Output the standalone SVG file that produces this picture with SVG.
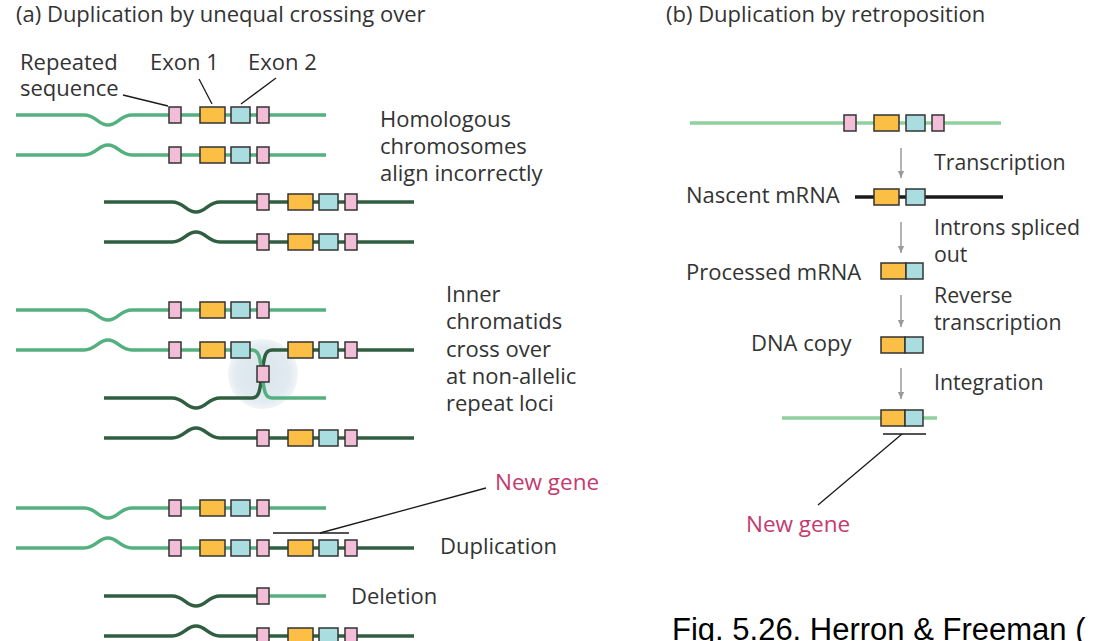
<svg xmlns="http://www.w3.org/2000/svg" width="1095" height="641" viewBox="0 0 1095 641">
<defs>
<style>
.t{font-family:"Open Sans","Noto Sans",sans-serif;font-size:22px;fill:#333}
.s{font-size:21.3px}
.ng{fill:#c43a6e;font-size:22.5px}
.lg{fill:none;stroke:#55b07f;stroke-width:3.5}
.dg{fill:none;stroke:#2f5f40;stroke-width:3.5}
.pg{fill:none;stroke:#8fd19c;stroke-width:3.5}
.bk{fill:none;stroke:#1a1a1a;stroke-width:3.5}
.pk{fill:#f2bdd6;stroke:#333;stroke-width:1.5}
.or{fill:#fbbf45;stroke:#333;stroke-width:1.5}
.bl{fill:#a9dde0;stroke:#333;stroke-width:1.5}
.ld{fill:none;stroke:#1a1a1a;stroke-width:1.3}
.ar{fill:none;stroke:#9a9a9a;stroke-width:1.5}
</style>
<marker id="ah" viewBox="0 0 10 10" refX="9" refY="5" markerWidth="8" markerHeight="8" orient="auto" markerUnits="userSpaceOnUse">
<path d="M0,1 L9,5 L0,9 Z" fill="#9a9a9a"/>
</marker>
<radialGradient id="glow">
<stop offset="0" stop-color="#d9e5ed"/>
<stop offset="0.75" stop-color="#e1eaf0"/>
<stop offset="1" stop-color="#f0f4f7"/>
</radialGradient>
<g id="genesL">
<rect class="pk" x="169" y="-8" width="12" height="16"/>
<rect class="or" x="200" y="-8" width="25" height="16"/>
<rect class="bl" x="231" y="-8" width="19" height="16"/>
<rect class="pk" x="257" y="-8" width="12" height="16"/>
</g>
</defs>
<rect width="1095" height="641" fill="#fff"/>

<text class="t" x="16" y="22">(a) Duplication by unequal crossing over</text>
<text class="t" x="666" y="22">(b) Duplication by retroposition</text>

<g id="labels-a">
<text class="t" x="20" y="70">Repeated</text>
<text class="t" x="20" y="96">sequence</text>
<text class="t" x="150" y="70">Exon 1</text>
<text class="t" x="248" y="70">Exon 2</text>
<text class="t" x="380" y="127">Homologous</text>
<text class="t" x="380" y="154">chromosomes</text>
<text class="t" x="380" y="181">align incorrectly</text>
<text class="t" x="446" y="302">Inner</text>
<text class="t" x="446" y="329">chromatids</text>
<text class="t" x="446" y="357">cross over</text>
<text class="t" x="446" y="384">at non-allelic</text>
<text class="t" x="446" y="411">repeat loci</text>
<text class="t ng" x="495" y="490">New gene</text>
<text class="t" x="440" y="554">Duplication</text>
<text class="t" x="351" y="604">Deletion</text>
</g>

<!-- Panel a, step 1 -->
<g id="a1-chr1">
<path class="lg" d="M16,115 L84,115 C96,115 98,125 108,125 C118,125 120,115 132,115 L326,115"/>
<use href="#genesL" y="115"/>
</g>
<g id="a1-chr2">
<path class="lg" d="M16,155 L84,155 C96,155 98,145 108,145 C118,145 120,155 132,155 L326,155"/>
<use href="#genesL" y="155"/>
</g>
<g id="a1-chr3">
<path class="dg" d="M104,202 L172,202 C184,202 186,212 196,212 C206,212 208,202 220,202 L414,202"/>
<use href="#genesL" x="88" y="202"/>
</g>
<g id="a1-chr4">
<path class="dg" d="M104,242 L172,242 C184,242 186,232 196,232 C206,232 208,242 220,242 L414,242"/>
<use href="#genesL" x="88" y="242"/>
</g>

<!-- Panel a, step 2 -->
<g id="a2-chr1">
<path class="lg" d="M16,310 L84,310 C96,310 98,320 108,320 C118,320 120,310 132,310 L326,310"/>
<use href="#genesL" y="310"/>
</g>
<g id="a2-cross">
<circle cx="263" cy="374" r="35" fill="url(#glow)"/>
<path class="dg" d="M104,398 L172,398 C184,398 186,408 196,408 C206,408 208,398 220,398 L252,398 C260,398 260,388 262,374 C264,360 264,350 272,350 L414,350"/>
<path class="lg" d="M16,350 L84,350 C96,350 98,340 108,340 C118,340 120,350 132,350 L252,350 C260,350 260,360 262,374 C264,388 264,398 272,398 L326,398"/>
<rect class="pk" x="169" y="342" width="12" height="16"/>
<rect class="or" x="200" y="342" width="25" height="16"/>
<rect class="bl" x="231" y="342" width="19" height="16"/>
<rect class="pk" x="257" y="366" width="12" height="16"/>
<rect class="or" x="288" y="342" width="25" height="16"/>
<rect class="bl" x="319" y="342" width="19" height="16"/>
<rect class="pk" x="345" y="342" width="12" height="16"/>
</g>
<g id="a2-chr4">
<path class="dg" d="M104,438 L172,438 C184,438 186,428 196,428 C206,428 208,438 220,438 L414,438"/>
<use href="#genesL" x="88" y="438"/>
</g>

<!-- Panel a, step 3 -->
<g id="a3-chr1">
<path class="lg" d="M16,508 L84,508 C96,508 98,518 108,518 C118,518 120,508 132,508 L326,508"/>
<use href="#genesL" y="508"/>
</g>
<g id="a3-dup">
<path class="dg" d="M263,548 L414,548"/>
<path class="lg" d="M16,548 L84,548 C96,548 98,538 108,538 C118,538 120,548 132,548 L263,548"/>
<use href="#genesL" y="548"/>
<rect class="or" x="288" y="540" width="25" height="16"/>
<rect class="bl" x="319" y="540" width="19" height="16"/>
<rect class="pk" x="345" y="540" width="12" height="16"/>
</g>
<g id="a3-del">
<path class="lg" d="M263,596 L326,596"/>
<path class="dg" d="M104,596 L172,596 C184,596 186,606 196,606 C206,606 208,596 220,596 L263,596"/>
<rect class="pk" x="257" y="588" width="12" height="16"/>
</g>
<g id="a3-chr4">
<path class="dg" d="M104,636 L172,636 C184,636 186,626 196,626 C206,626 208,636 220,636 L414,636"/>
<use href="#genesL" x="88" y="636"/>
</g>

<!-- Panel b -->
<g id="b-gene">
<path class="pg" d="M690,123 L1001,123"/>
<rect class="pk" x="844" y="115" width="12" height="16"/>
<rect class="or" x="874" y="115" width="25" height="16"/>
<rect class="bl" x="906" y="115" width="19" height="16"/>
<rect class="pk" x="932" y="115" width="12" height="16"/>
</g>
<g id="b-nascent">
<text class="t" x="686" y="203">Nascent mRNA</text>
<path class="bk" d="M855,197 L1003,197"/>
<rect class="or" x="874" y="189" width="25" height="16"/>
<rect class="bl" x="906" y="189" width="19" height="16"/>
</g>
<g id="b-processed">
<text class="t" x="686" y="280">Processed mRNA</text>
<rect class="or" x="881" y="263" width="25" height="16"/>
<rect class="bl" x="906" y="263" width="17" height="16"/>
</g>
<g id="b-dnacopy">
<text class="t" x="751" y="351">DNA copy</text>
<rect class="or" x="881" y="337" width="24" height="16"/>
<rect class="bl" x="905" y="337" width="18" height="16"/>
</g>
<g id="b-integrated">
<path class="pg" d="M782,418 L937,418"/>
<rect class="or" x="881" y="410" width="24" height="16"/>
<rect class="bl" x="905" y="410" width="18" height="16"/>
</g>
<g id="b-steps">
<text class="t s" x="934" y="170">Transcription</text>
<text class="t s" x="934" y="235">Introns spliced</text>
<text class="t s" x="934" y="262">out</text>
<text class="t s" x="934" y="303">Reverse</text>
<text class="t s" x="934" y="330">transcription</text>
<text class="t s" x="934" y="390">Integration</text>
<text class="t ng" x="746" y="532">New gene</text>
</g>

<g id="connectors">
<line class="ld" x1="123" y1="95" x2="168" y2="106"/>
<line class="ld" x1="199" y1="79" x2="212" y2="104"/>
<line class="ld" x1="276" y1="78" x2="241" y2="104"/>
<line class="ld" x1="273" y1="533" x2="349" y2="533"/>
<line class="ld" x1="320" y1="533" x2="486" y2="488"/>
<line class="ar" x1="901" y1="148" x2="901" y2="178" marker-end="url(#ah)"/>
<line class="ar" x1="901" y1="222" x2="901" y2="253" marker-end="url(#ah)"/>
<line class="ar" x1="901" y1="295" x2="901" y2="327" marker-end="url(#ah)"/>
<line class="ar" x1="901" y1="368" x2="901" y2="399" marker-end="url(#ah)"/>
<line class="ld" x1="883" y1="434" x2="926" y2="434"/>
<line class="ld" x1="902" y1="434" x2="818" y2="505"/>
</g>

<text x="672" y="640" style="font-family:'Liberation Sans',Arial,sans-serif;font-size:31px;fill:#000">Fig. 5.26. Herron &amp; Freeman (</text>
</svg>
